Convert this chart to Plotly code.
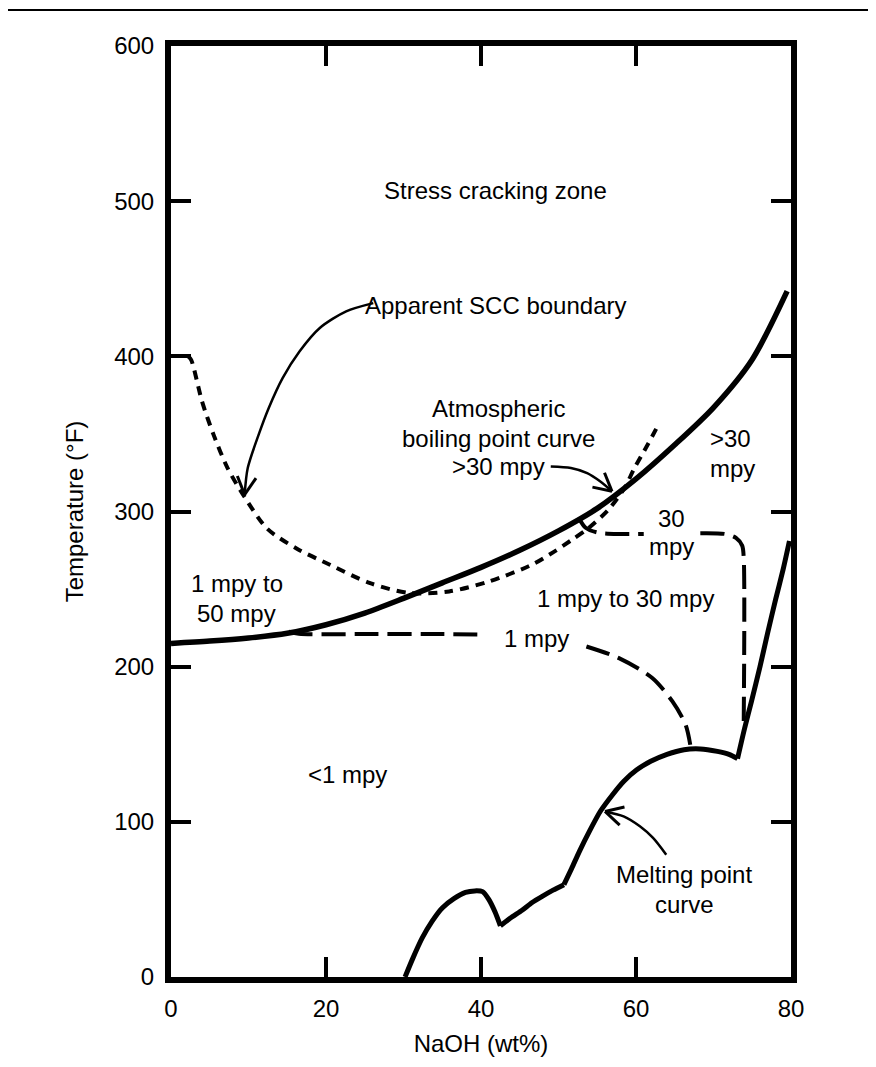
import numpy as np
import plotly.graph_objects as go

# ---------------- data ----------------
boil_x = [0, 5, 10, 15, 20, 25, 30, 35, 40, 45, 50, 55, 60, 65, 70, 75, 79.5]
boil_y = [215, 216.5, 218.5, 221.5, 227, 234.5, 244, 254, 264, 275, 287.5, 302, 321, 343, 367, 398, 442]

melt_x = [30.2, 31.2, 32.4, 33.7, 35.0, 36.5, 38.0, 39.2, 40.2, 41.0, 41.8, 42.5, 43.8, 45.3, 46.6, 47.9,
          49.3, 50.7, 51.7, 52.7, 54.0, 55.4, 56.9, 58.4, 60.1, 61.9, 64.0, 66.2, 68.3, 70.5, 72.0, 73.1,
          74.0, 74.9, 76.0, 77.0, 78.0, 79.0, 79.8]
melt_y = [0, 12, 25, 36, 44.5, 50.5, 54.5, 55.5, 55, 50, 42, 33, 38, 43, 48, 52,
          56, 59.5, 70, 81, 94, 106.8, 117, 126, 133.5, 139, 143.5, 146.5, 147, 145.4, 143.5, 140.7,
          160, 177.6, 200, 222, 243, 263, 281]
melt_cusps = [42.5, 50.7, 73.1]   # compositions where the melting curve has sharp corners

scc_x = [2.2, 2.6, 4.0, 5.5, 7.3, 9.45, 12.4, 16.25, 20.5, 25.6, 30.8, 35.9, 41.1, 46.7, 49.4, 51.8, 53.8,
         56.4, 58.5, 59.8, 61.5, 63.0]
scc_y = [400, 397.7, 371, 349.4, 328, 309.7, 289, 276, 265.7, 254, 247.4, 248.5, 255, 266, 274, 282, 289,
         301, 315, 328, 343, 357]

mpy1_x = [15.2, 16.5, 25, 35, 40.5, None, 53.6, 57.8, 62.1, 64.7, 66.4, 67.0]
mpy1_y = [222.5, 221.2, 221, 221, 220.6, None, 213, 205.5, 192.7, 177.6, 162.6, 149.7]

mpy30_x = [52.6, 53.5, 55, 58, 61, None, 68.3, 71.5, 72.9, 73.7, 73.9, 73.9]
mpy30_y = [296, 289.5, 286.5, 285.5, 285.5, None, 286, 285.5, 283, 278, 270, 165]

# annotation arrows (curved leader lines)
arrow_scc_x = [26.1, 22.6, 19.2, 16.6, 14.4, 12.6, 11.3, 9.9, 9.5]
arrow_scc_y = [434.3, 429, 418.3, 403.3, 386, 366.6, 349.4, 328, 310.9]
arrow_boil_x = [49.0, 51.6, 53.7, 55.4, 56.9]
arrow_boil_y = [329, 328, 324.7, 319.3, 313]
arrow_melt_x = [63.9, 62.2, 60.5, 58.4, 56.0]
arrow_melt_y = [78.8, 89.6, 97.1, 103.5, 106.7]

# region / curve labels
label_text = ["Stress cracking zone", "Apparent SCC boundary", "Atmospheric", "boiling point curve",
              ">30 mpy", "1 mpy to", "50 mpy", "<1 mpy", "1 mpy to 30 mpy", "1 mpy", "30", "mpy",
              ">30", "mpy", "Melting point", "curve"]
label_x = [41.9, 41.9, 42.3, 42.3, 42.3, 8.5, 8.5, 22.8, 58.7, 47.2, 64.6, 64.6, 72.2, 72.4, 66.2, 66.2]
label_y = [507, 433, 366.6, 347.3, 329.3, 253.9, 234.5, 130.3, 244.2, 218.4, 295.7, 277.7, 347.3, 328,
           65.9, 46.6]

x_ticks = [0, 20, 40, 60, 80]
x_tick_labels = ["0", "20", "40", "60", "80"]
y_ticks = [0, 100, 200, 300, 400, 500, 600]
y_tick_labels = ["0", "100", "200", "300", "400", "500", "600"]

# ---------------- figure ----------------
FONT = "Liberation Sans, Arial, Helvetica, sans-serif"
FS = 24
W, H = 876, 1067
L, R, T, B = 163, 93, 38, 98
XR = (0, 80)
YR = (0, 600)
px_x = (W - L - R) / (XR[1] - XR[0])
px_y = (H - T - B) / (YR[1] - YR[0])

fig = go.Figure()


def line(x, y, width, dash="solid", shape="linear", smoothing=0.8):
    fig.add_trace(go.Scatter(x=x, y=y, mode="lines", showlegend=False, hoverinfo="skip",
                             line=dict(color="black", width=width, dash=dash, shape=shape, smoothing=smoothing),
                             connectgaps=False))


line(boil_x, boil_y, 5.5, shape="spline")

# melting curve: smooth arcs between the sharp cusps
seg_x, seg_y = [[]], [[]]
for xv, yv in zip(melt_x, melt_y):
    seg_x[-1].append(xv)
    seg_y[-1].append(yv)
    if xv in melt_cusps:
        seg_x.append([xv])
        seg_y.append([yv])
for sx, sy in zip(seg_x, seg_y):
    fig.add_trace(go.Scatter(x=sx, y=sy, mode="lines", showlegend=False, hoverinfo="skip",
                             line=dict(color="black", width=5, shape="spline", smoothing=0.6)))

line(scc_x, scc_y, 4, dash="9px,7px", shape="spline")
line(mpy1_x, mpy1_y, 4, dash="24px,9px", shape="spline")
line(mpy30_x, mpy30_y, 4, dash="24px,9px", shape="spline")


def arrow(xs, ys):
    line(xs, ys, 2.5, shape="spline")
    # open V head derived from the last segment direction, in pixel space
    dx = (xs[-1] - xs[-2]) * px_x
    dy = (ys[-1] - ys[-2]) * px_y
    ang = np.arctan2(dy, dx)
    wx, wy = [], []
    for s in (1, -1):
        a = ang + np.pi - s * np.radians(28)
        wx += [xs[-1] + 20 * np.cos(a) / px_x, xs[-1], None]
        wy += [ys[-1] + 20 * np.sin(a) / px_y, ys[-1], None]
    line(wx, wy, 3)


arrow(arrow_scc_x, arrow_scc_y)
arrow(arrow_boil_x, arrow_boil_y)
arrow(arrow_melt_x, arrow_melt_y)

for t, x, y in zip(label_text, label_x, label_y):
    fig.add_annotation(x=x, y=y, text=t, showarrow=False, xanchor="center", yanchor="middle",
                       font=dict(family=FONT, size=FS, color="black"))

axis_common = dict(showgrid=False, zeroline=False, showline=True, linecolor="black", linewidth=6,
                   mirror="ticks", ticks="inside", ticklen=20, tickwidth=4, tickcolor="black",
                   tickfont=dict(family=FONT, size=FS, color="black"))

fig.update_xaxes(range=list(XR), tickvals=x_ticks, ticktext=x_tick_labels, ticklabelstandoff=5,
                 title=dict(text="NaOH (wt%)", font=dict(family=FONT, size=FS, color="black"), standoff=16),
                 **axis_common)
fig.update_yaxes(range=list(YR), tickvals=y_ticks, ticktext=y_tick_labels, ticklabelstandoff=6,
                 title=dict(text="Temperature (°F)", font=dict(family=FONT, size=FS, color="black"), standoff=26),
                 **axis_common)

# thin rule across the top of the page
fig.add_shape(type="line", xref="paper", yref="paper",
              x0=-L / (W - L - R), x1=(W - L) / (W - L - R),
              y0=1 + 36 / (H - T - B), y1=1 + 36 / (H - T - B),
              line=dict(color="black", width=2))

fig.update_layout(width=W, height=H, margin=dict(l=L, r=R, t=T, b=B),
                  paper_bgcolor="white", plot_bgcolor="white",
                  font=dict(family=FONT, size=FS, color="black"))

fig.write_html("out.html")
